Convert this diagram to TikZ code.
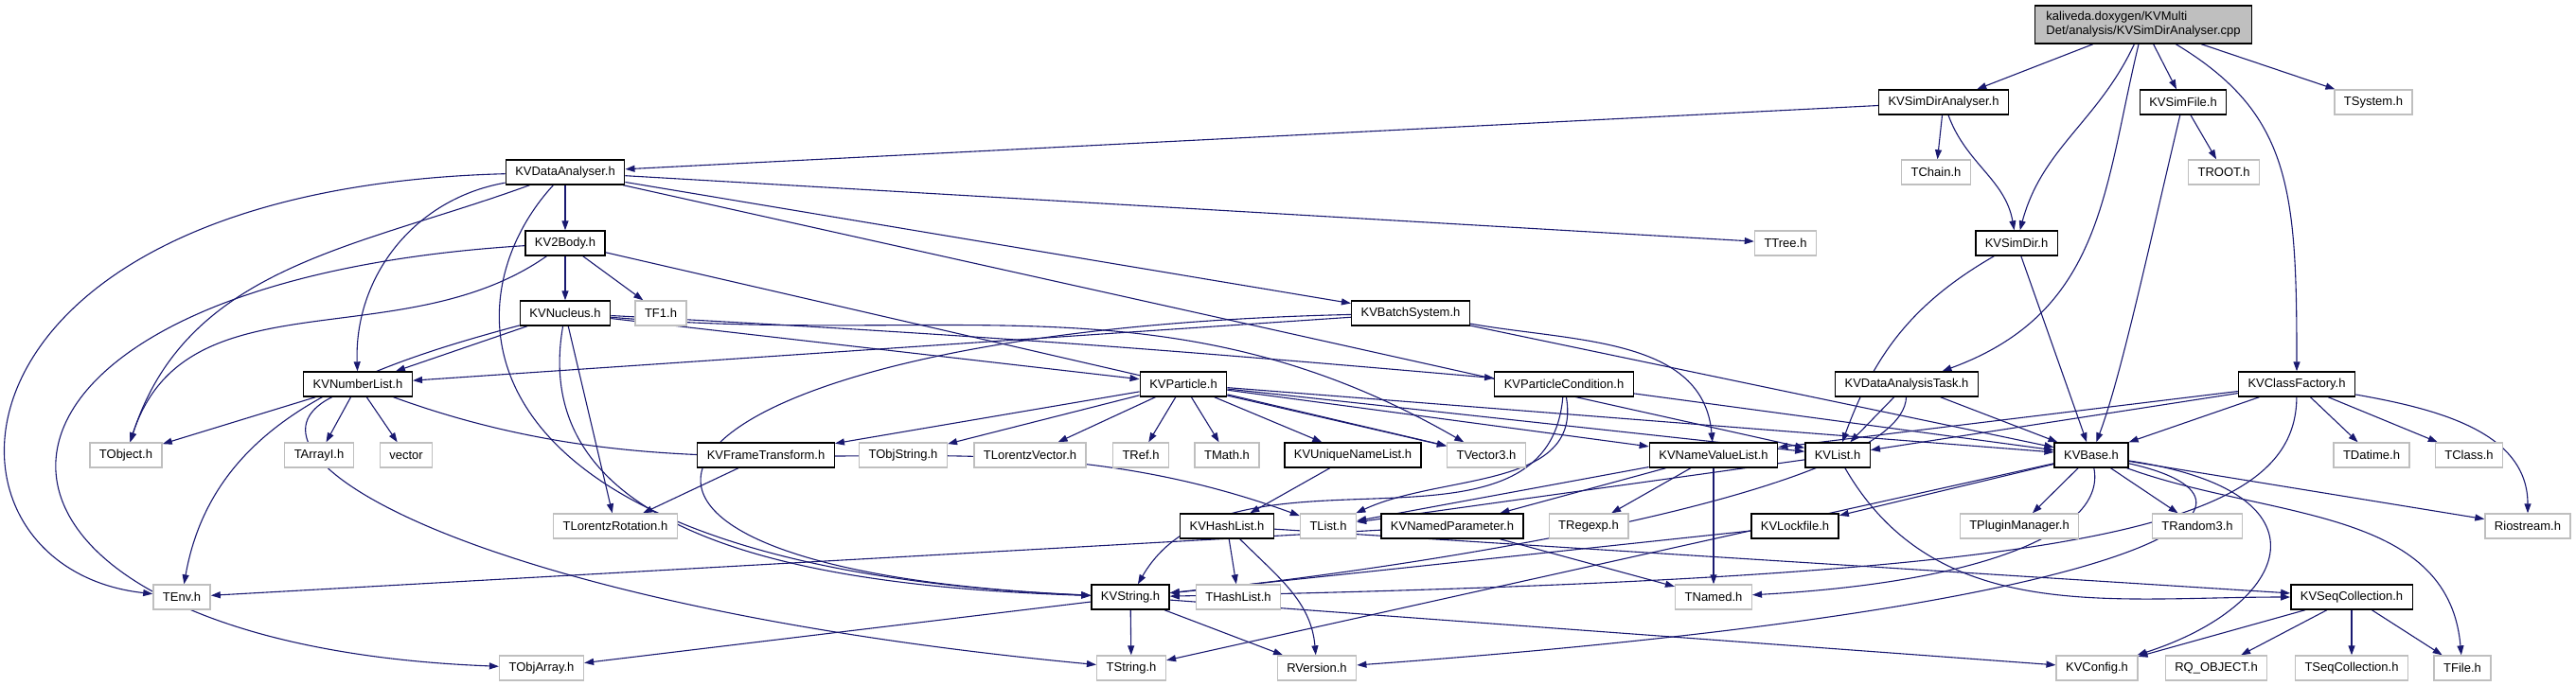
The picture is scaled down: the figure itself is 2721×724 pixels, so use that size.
\documentclass[tikz,border=0pt]{standalone}
\usepackage{fontspec}
\setmainfont{Liberation Sans}
\usetikzlibrary{arrows.meta,backgrounds}
\definecolor{edgeblue}{HTML}{191970}
\definecolor{extgray}{HTML}{BFBFBF}

\begin{document}
\begin{tikzpicture}[x=1pt, y=1pt,
				hdr/.style={draw=black, fill=white, line width=1.4pt, minimum height=26pt, inner xsep=10pt, inner ysep=0pt, font=\fontsize{13}{15}\selectfont},
				ext/.style={hdr, draw=extgray},
				arrow/.style={-{Triangle[length=10pt,width=7pt]}, draw=edgeblue, line width=1.1pt}
			]
			\useasboundingbox (0,0) rectangle (2721,-724);

			% Source file
			\node[hdr, fill=extgray, align=left, minimum height=40pt, inner xsep=12pt] (root) at (2264,-26) {kaliveda.doxygen/KVMulti\\Det/analysis/KVSimDirAnalyser.cpp};

			% Row 1
			\node[hdr] (simdiranalyser) at (2053,-108) {KVSimDirAnalyser.h};
			\node[hdr] (simfile) at (2306,-108) {KVSimFile.h};
			\node[ext] (tsystem) at (2507,-108) {TSystem.h};

			% Row 2
			\node[hdr] (dataanalyser) at (597,-182) {KVDataAnalyser.h};
			\node[ext] (tchain) at (2045,-182) {TChain.h};
			\node[ext] (troot) at (2349,-182) {TROOT.h};

			% Row 3
			\node[hdr] (twobody) at (597,-257) {KV2Body.h};
			\node[ext] (ttree) at (1886,-257) {TTree.h};
			\node[hdr] (simdir) at (2130,-257) {KVSimDir.h};

			% Row 4
			\node[hdr] (nucleus) at (597,-331) {KVNucleus.h};
			\node[ext] (tfone) at (698,-331) {TF1.h};
			\node[hdr] (batch) at (1490,-331) {KVBatchSystem.h};

			% Row 5
			\node[hdr] (numberlist) at (378,-406) {KVNumberList.h};
			\node[hdr] (particle) at (1250,-406) {KVParticle.h};
			\node[hdr] (partcond) at (1652,-406) {KVParticleCondition.h};
			\node[hdr] (anatask) at (2014,-406) {KVDataAnalysisTask.h};
			\node[hdr] (classfactory) at (2426,-406) {KVClassFactory.h};

			% Row 6
			\node[ext] (tobject) at (133,-481) {TObject.h};
			\node[ext] (tarrayi) at (337,-481) {TArrayI.h};
			\node[ext] (vector) at (429,-481) {vector};
			\node[hdr] (frametrans) at (809,-481) {KVFrameTransform.h};
			\node[ext] (tobjstring) at (954,-481) {TObjString.h};
			\node[ext] (tlorvec) at (1088,-481) {TLorentzVector.h};
			\node[ext] (tref) at (1205,-481) {TRef.h};
			\node[ext] (tmath) at (1296,-481) {TMath.h};
			\node[hdr] (uniquelist) at (1429,-481) {KVUniqueNameList.h};
			\node[ext] (tvector) at (1570,-481) {TVector3.h};
			\node[hdr] (namevalue) at (1810,-481) {KVNameValueList.h};
			\node[hdr] (kvlist) at (1941,-481) {KVList.h};
			\node[hdr] (kvbase) at (2209,-481) {KVBase.h};
			\node[ext] (tdatime) at (2505,-481) {TDatime.h};
			\node[ext] (tclass) at (2608,-481) {TClass.h};

			% Row 7
			\node[ext] (tlorrot) at (650,-556) {TLorentzRotation.h};
			\node[hdr] (hashlist) at (1296,-556) {KVHashList.h};
			\node[ext] (tlist) at (1403,-556) {TList.h};
			\node[hdr] (namedpar) at (1534,-556) {KVNamedParameter.h};
			\node[ext] (tregexp) at (1678,-556) {TRegexp.h};
			\node[hdr] (lockfile) at (1896,-556) {KVLockfile.h};
			\node[ext] (tplugin) at (2133,-556) {TPluginManager.h};
			\node[ext] (trandom) at (2321,-556) {TRandom3.h};
			\node[ext] (riostream) at (2670,-556) {Riostream.h};

			% Row 8
			\node[ext] (tenv) at (192,-631) {TEnv.h};
			\node[hdr] (kvstring) at (1194,-631) {KVString.h};
			\node[ext] (thashlist) at (1308,-631) {THashList.h};
			\node[ext] (tnamed) at (1810,-631) {TNamed.h};
			\node[hdr] (seqcoll) at (2484,-631) {KVSeqCollection.h};

			% Row 9
			\node[ext] (tobjarray) at (572,-706) {TObjArray.h};
			\node[ext] (tstring) at (1195,-706) {TString.h};
			\node[ext] (rversion) at (1391,-706) {RVersion.h};
			\node[ext] (kvconfig) at (2215,-706) {KVConfig.h};
			\node[ext] (rqobject) at (2341,-706) {RQ\_OBJECT.h};
			\node[ext] (tseqcoll) at (2484,-706) {TSeqCollection.h};
			\node[ext] (tfile) at (2601,-706) {TFile.h};

			% Includes
			\begin{scope}[on background layer]
			\draw[arrow] (root) -- (simdiranalyser);
			\draw[arrow] (root) to[out=-115, in=75] (simdir);
			\draw[arrow] (root) .. controls (2222,-200) and (2222,-330) .. (anatask);
			\draw[arrow] (root) -- (simfile);
			\draw[arrow] (root) .. controls (2420,-120) and (2426,-200) .. (classfactory);
			\draw[arrow] (root) -- (tsystem);

			\draw[arrow] (simdiranalyser) -- (dataanalyser);
			\draw[arrow] (simdiranalyser) -- (tchain);
			\draw[arrow] (simdiranalyser) to[out=-70, in=100] (simdir);
			\draw[arrow] (simfile) -- (troot);
			\draw[arrow] (simfile) .. controls (2270,-260) and (2240,-400) .. (kvbase);
			\draw[arrow] (simdir) to[out=-150, in=70] (kvlist);
			\draw[arrow] (simdir) -- (kvbase);

			\draw[arrow] (dataanalyser) -- (twobody);
			\draw[arrow] (dataanalyser) to[out=190, in=92] (numberlist);
			\draw[arrow] (dataanalyser) to[out=200, in=72] (tobject);
			\draw[arrow] (dataanalyser) .. controls (-80,-200) and (-90,-600) .. (tenv);
			\draw[arrow] (dataanalyser) .. controls (470,-320) and (470,-600) .. (kvstring);
			\draw[arrow] (dataanalyser) -- (ttree);
			\draw[arrow] (dataanalyser) -- (batch);
			\draw[arrow] (dataanalyser) -- (kvlist);

			\draw[arrow] (twobody) -- (nucleus);
			\draw[arrow] (twobody) -- (tfone);
			\draw[arrow] (twobody) to[out=215, in=72] (tobject);
			\draw[arrow] (twobody) .. controls (-100,-300) and (-100,-680) .. (tobjarray);
			\draw[arrow] (twobody) -- (tvector);

			\draw[arrow] (nucleus) -- (numberlist);
			\draw[arrow] (nucleus) -- (particle);
			\draw[arrow] (nucleus) to[out=-3, in=175] (partcond);
			\draw[arrow] (nucleus) to[out=-5, in=150] (tvector);
			\draw[arrow] (nucleus) -- (tlorrot);
			\draw[arrow] (nucleus) to[out=195, in=80] (tenv);
			\draw[arrow] (nucleus) to[out=-100, in=178] (kvstring);

			\draw[arrow] (batch) -- (numberlist);
			\draw[arrow] (batch) .. controls (650,-350) and (500,-600) .. (kvstring);
			\draw[arrow] (batch) to[out=-10, in=95] (namevalue);
			\draw[arrow] (batch) -- (kvbase);

			\draw[arrow] (numberlist) -- (tobject);
			\draw[arrow] (numberlist) -- (tarrayi);
			\draw[arrow] (numberlist) -- (vector);
			\draw[arrow] (numberlist) .. controls (230,-480) and (500,-640) .. (tstring);
			\draw[arrow] (numberlist) to[out=-20, in=160] (tlist);

			\draw[arrow] (particle) -- (frametrans);
			\draw[arrow] (particle) -- (tobjstring);
			\draw[arrow] (particle) -- (tlorvec);
			\draw[arrow] (particle) -- (tref);
			\draw[arrow] (particle) -- (tmath);
			\draw[arrow] (particle) -- (uniquelist);
			\draw[arrow] (particle) -- (tvector);
			\draw[arrow] (particle) -- (namevalue);
			\draw[arrow] (particle) -- (kvlist);
			\draw[arrow] (particle) -- (kvbase);

			\draw[arrow] (partcond) -- (kvbase);
			\draw[arrow] (partcond) to[out=-95, in=60] (kvstring);
			\draw[arrow] (partcond) to[out=-80, in=25] (tlist);

			\draw[arrow] (anatask) -- (kvlist);
			\draw[arrow] (anatask) .. controls (2010,-520) and (1500,-600) .. (kvstring);
			\draw[arrow] (anatask) -- (kvbase);

			\draw[arrow] (classfactory) -- (namevalue);
			\draw[arrow] (classfactory) -- (kvlist);
			\draw[arrow] (classfactory) -- (kvbase);
			\draw[arrow] (classfactory) .. controls (2425,-560) and (2200,-610) .. (kvstring);
			\draw[arrow] (classfactory) -- (tdatime);
			\draw[arrow] (classfactory) -- (tclass);
			\draw[arrow] (classfactory) to[out=-10, in=90] (riostream);

			\draw[arrow] (uniquelist) -- (hashlist);
			\draw[arrow] (frametrans) -- (tlorrot);

			\draw[arrow] (namevalue) -- (tlist);
			\draw[arrow] (namevalue) -- (namedpar);
			\draw[arrow] (namevalue) -- (tregexp);
			\draw[arrow] (namevalue) -- (tnamed);

			\draw[arrow] (kvlist) -- (tlist);
			\draw[arrow] (kvlist) to[out=-60, in=180] (seqcoll);

			\draw[arrow] (namedpar) -- (tnamed);
			\draw[arrow] (namedpar) -- (tenv);

			\draw[arrow] (hashlist) -- (seqcoll);
			\draw[arrow] (hashlist) -- (thashlist);
			\draw[arrow] (hashlist) to[out=-45, in=95] (rversion);

			\draw[arrow] (lockfile) -- (kvstring);

			\draw[arrow] (kvbase) -- (lockfile);
			\draw[arrow] (kvbase) -- (tplugin);
			\draw[arrow] (kvbase) -- (trandom);
			\draw[arrow] (kvbase) -- (riostream);
			\draw[arrow] (kvbase) to[out=-20, in=95] (tfile);
			\draw[arrow] (kvbase) .. controls (2470,-520) and (2420,-640) .. (kvconfig);
			\draw[arrow] (kvbase) .. controls (2225,-560) and (2100,-615) .. (tnamed);
			\draw[arrow] (kvbase) .. controls (2430,-530) and (2300,-640) .. (rversion);
			\draw[arrow] (kvbase) -- (tstring);

			\draw[arrow] (seqcoll) -- (kvconfig);
			\draw[arrow] (seqcoll) -- (rqobject);
			\draw[arrow] (seqcoll) -- (tseqcoll);
			\draw[arrow] (seqcoll) -- (tfile);

			\draw[arrow] (kvstring) -- (tstring);
			\draw[arrow] (kvstring) -- (rversion);
			\draw[arrow] (kvstring) -- (kvconfig);
			\draw[arrow] (kvstring) -- (tobjarray);
			\end{scope}
		\end{tikzpicture}
\end{document}
